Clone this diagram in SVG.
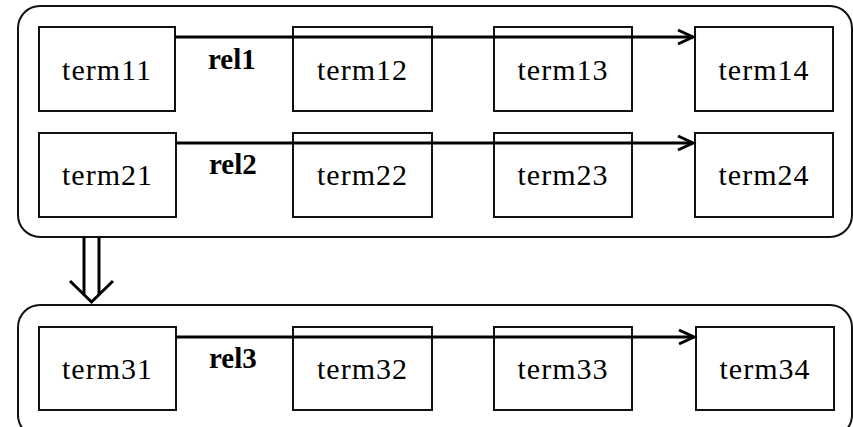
<svg xmlns="http://www.w3.org/2000/svg" width="853" height="427" viewBox="0 0 853 427">
  <defs>
    <style>
      .group { fill: none; stroke: #111; stroke-width: 2; }
      .box { fill: #fff; stroke: #111; stroke-width: 2; }
      .term { font-family: 'Liberation Serif', 'Times New Roman', serif; font-size: 30px; letter-spacing: 1px; fill: #000; text-anchor: middle; }
      .rel { font-family: 'Liberation Serif', 'Times New Roman', serif; font-size: 29px; font-weight: bold; fill: #000; }
      .link { fill: none; stroke: #000; stroke-width: 3; }
      .head { fill: none; stroke: #000; stroke-width: 3; stroke-linejoin: miter; }
      .flow { fill: none; stroke: #000; stroke-width: 3; }
    </style>
  </defs>

  <!-- grouping frames (the lower one runs past the bottom edge) -->
  <rect id="frame-top" class="group" x="18" y="6" width="834" height="231" rx="22" ry="22"/>
  <rect id="frame-bottom" class="group" x="18" y="305" width="834" height="132" rx="22" ry="22"/>

  <!-- term nodes -->
  <g id="term11"><rect class="box" x="39" y="27" width="136" height="84"/><text class="term" font-family="Liberation Serif, serif" x="107" y="80">term11</text></g>
  <g id="term12"><rect class="box" x="293" y="27" width="139" height="84"/><text class="term" font-family="Liberation Serif, serif" x="362.5" y="80">term12</text></g>
  <g id="term13"><rect class="box" x="494" y="27" width="138" height="84"/><text class="term" font-family="Liberation Serif, serif" x="563" y="80">term13</text></g>
  <g id="term14"><rect class="box" x="695" y="27" width="138" height="84"/><text class="term" font-family="Liberation Serif, serif" x="764" y="80">term14</text></g>

  <g id="term21"><rect class="box" x="39" y="133" width="137" height="84"/><text class="term" font-family="Liberation Serif, serif" x="107.5" y="185">term21</text></g>
  <g id="term22"><rect class="box" x="293" y="133" width="139" height="84"/><text class="term" font-family="Liberation Serif, serif" x="362.5" y="185">term22</text></g>
  <g id="term23"><rect class="box" x="494" y="133" width="138" height="84"/><text class="term" font-family="Liberation Serif, serif" x="563" y="185">term23</text></g>
  <g id="term24"><rect class="box" x="695" y="133" width="138" height="84"/><text class="term" font-family="Liberation Serif, serif" x="764" y="185">term24</text></g>

  <g id="term31"><rect class="box" x="39" y="327" width="137" height="83"/><text class="term" font-family="Liberation Serif, serif" x="107.5" y="379">term31</text></g>
  <g id="term32"><rect class="box" x="293" y="327" width="139" height="83"/><text class="term" font-family="Liberation Serif, serif" x="362.5" y="379">term32</text></g>
  <g id="term33"><rect class="box" x="494" y="327" width="138" height="83"/><text class="term" font-family="Liberation Serif, serif" x="563" y="379">term33</text></g>
  <g id="term34"><rect class="box" x="696" y="327" width="138" height="83"/><text class="term" font-family="Liberation Serif, serif" x="765" y="379">term34</text></g>

  <!-- relation connectors -->
  <g id="connectors">
    <line class="link" x1="175" y1="37" x2="693" y2="37"/>
    <polyline class="head" points="678,30 693,37 678,44"/>
    <text class="rel" x="208" y="69">rel1</text>

    <line class="link" x1="176" y1="143" x2="693" y2="143"/>
    <polyline class="head" points="678,136 693,143 678,150"/>
    <text class="rel" x="209" y="174">rel2</text>

    <line class="link" x1="176" y1="337" x2="694" y2="337"/>
    <polyline class="head" points="679,330 694,337 679,344"/>
    <text class="rel" x="209" y="368">rel3</text>

    <!-- double-shaft arrow between frames -->
    <line class="flow" x1="84" y1="237" x2="84" y2="294"/>
    <line class="flow" x1="99" y1="237" x2="99" y2="294"/>
    <polyline class="flow" points="70,281 91.5,302 113,281"/>
  </g>
</svg>
